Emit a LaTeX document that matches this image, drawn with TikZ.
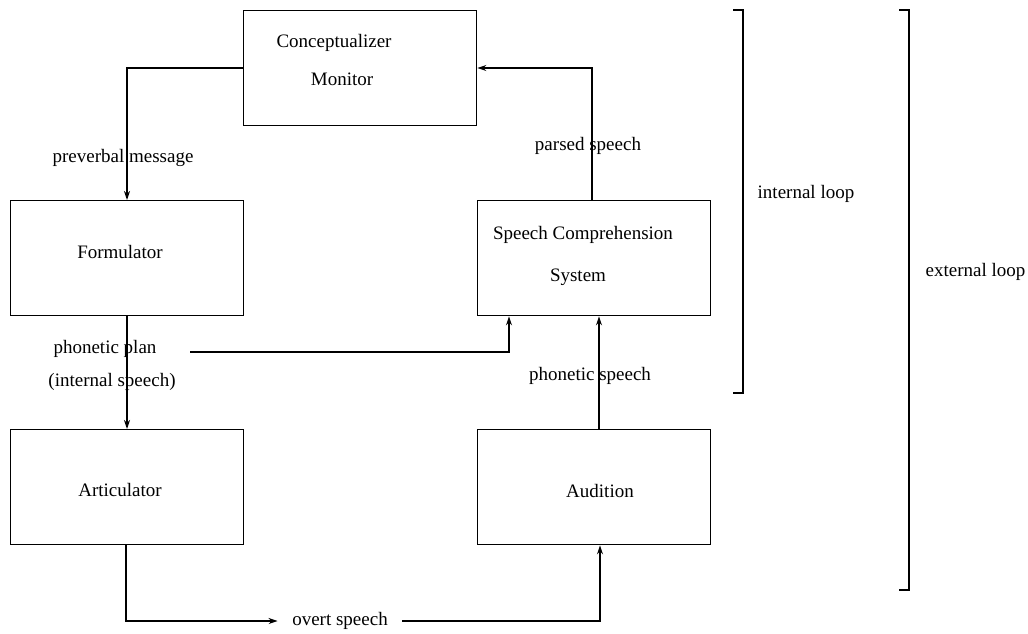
\documentclass[tikz,border=0pt]{standalone}
\usepackage{fontspec}
\setmainfont{Liberation Serif}
\usetikzlibrary{arrows.meta}
\begin{document}
\begin{tikzpicture}[x=1pt,y=-1pt,
  font=\fontsize{19}{22}\selectfont,
  line width=1.4pt,
  box/.style={draw,rectangle,line width=1.4pt,minimum width=233pt,minimum height=115pt,inner sep=0pt,anchor=north west},
  lbl/.style={inner sep=0pt},
  arr/.style={-{Stealth[length=9pt,width=6pt]}}]
\useasboundingbox (0,0) rectangle (1028,633);
% boxes
\node[box] (con) at (243,10) {};
\node[box] (for) at (10,200) {};
\node[box] (scs) at (477,200) {};
\node[box] (art) at (10,429) {};
\node[box] (aud) at (477,429) {};
% box texts
\node[lbl] (t1) at (334,43) {Conceptualizer};
\node[lbl] (t2) at (342,79) {Monitor};
\node[lbl] (t3) at (120,252) {Formulator};
\node[lbl] (t4) at (583,235) {Speech Comprehension};
\node[lbl] (t5) at (578,277) {System};
\node[lbl] (t6) at (120,490) {Articulator};
\node[lbl] (t7) at (600,491) {Audition};
% connector labels
\node[lbl] (l1) at (123,158) {preverbal message};
\node[lbl] (l2) at (588,146) {parsed speech};
\node[lbl] (l3) at (105,349) {phonetic plan};
\node[lbl] (l4) at (112,382) {(internal speech)};
\node[lbl] (l5) at (590,376) {phonetic speech};
\node[inner xsep=14pt,inner ysep=0pt] (ov) at (340,621) {overt speech};
% connectors
\draw[arr] (con.west |- 0,68) -| (for.north -| 127,0);
\draw[arr] (127,315) coordinate (fb) -- (127,429) coordinate (at);
\draw[arr] (art.south -| 126,0) |- (ov.west);
\draw[arr] (ov.east) -| (aud.south -| 600,0);
\draw[arr] (aud.north -| 599,0) -- (scs.south -| 599,0);
\coordinate (pp) at (190,352);
\draw[arr] (pp) -| (scs.south -| 509,0);
\draw[arr] (scs.north -| 592,0) |- (con.east |- 0,68);
% brackets
\coordinate (ia) at (733,10);
\coordinate (ib) at (733,393);
\draw (ia) -- (743,10) -- (743,393) -- (ib);
\node[lbl,anchor=west] (il) at (757,194) {internal loop};
\coordinate (ea) at (899,10);
\coordinate (eb) at (899,590);
\draw (ea) -- (909,10) -- (909,590) -- (eb);
\node[lbl,anchor=west] (el) at (925,272) {external loop};
\end{tikzpicture}
\end{document}
